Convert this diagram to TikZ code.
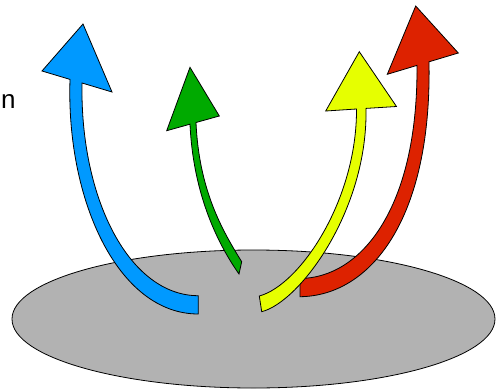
\documentclass[tikz,border=0pt]{standalone}
\usepackage{fontspec}
\setmainfont{Liberation Sans}
\definecolor{diskgray}{RGB}{178,178,178}
\definecolor{arrblue}{RGB}{0,153,255}
\definecolor{arrgreen}{RGB}{0,170,0}
\definecolor{arryellow}{RGB}{230,255,0}
\definecolor{arrred}{RGB}{221,34,0}
\tikzset{
  outlined/.style={draw=black, line width=0.8pt, line join=miter},
}
\begin{document}
\begin{tikzpicture}[x=1pt,y=-1pt]
\useasboundingbox (0,0) rectangle (499,389);
% disk
\draw[outlined, fill=diskgray] (253.5,319) ellipse [x radius=241.5pt, y radius=69pt];
% blue arrow
\filldraw[outlined, fill=arrblue] (198.3,314) .. controls (118,314) and (66,200) .. (70,79.4)
  -- (42,71) -- (83,24) -- (112,92) -- (82,83)
  .. controls (80,200) and (130,295.7) .. (198.3,295.7) -- cycle;
% green arrow
\filldraw[outlined, fill=arrgreen] (241.7,261.7) .. controls (222,230) and (199,190) .. (196,122.5)
  -- (219.3,116) -- (190,67.3) -- (166.7,130.7) -- (190,124.2)
  .. controls (193,190) and (215,240) .. (239,274) -- cycle;
% red arrow
\filldraw[outlined, fill=arrred] (300,296.7) .. controls (370,296) and (432,220) .. (429,61.8)
  -- (458.3,53) -- (415.7,6) -- (387.3,74.3) -- (417,65.4)
  .. controls (418,210) and (360,278) .. (300,278.5) -- cycle;
% yellow arrow
\filldraw[outlined, fill=arryellow] (261.7,311.7) .. controls (300,302) and (368,210) .. (366,108.4)
  -- (396.5,106.5) -- (359.3,51.7) -- (325.7,111) -- (356.5,109)
  .. controls (357,200) and (300,285) .. (259.3,296) -- cycle;
% label
\node[anchor=base west, inner sep=0pt, font=\fontsize{26}{30}\selectfont] (lbl) at (1,108.3) {n};
\end{tikzpicture}
\end{document}
